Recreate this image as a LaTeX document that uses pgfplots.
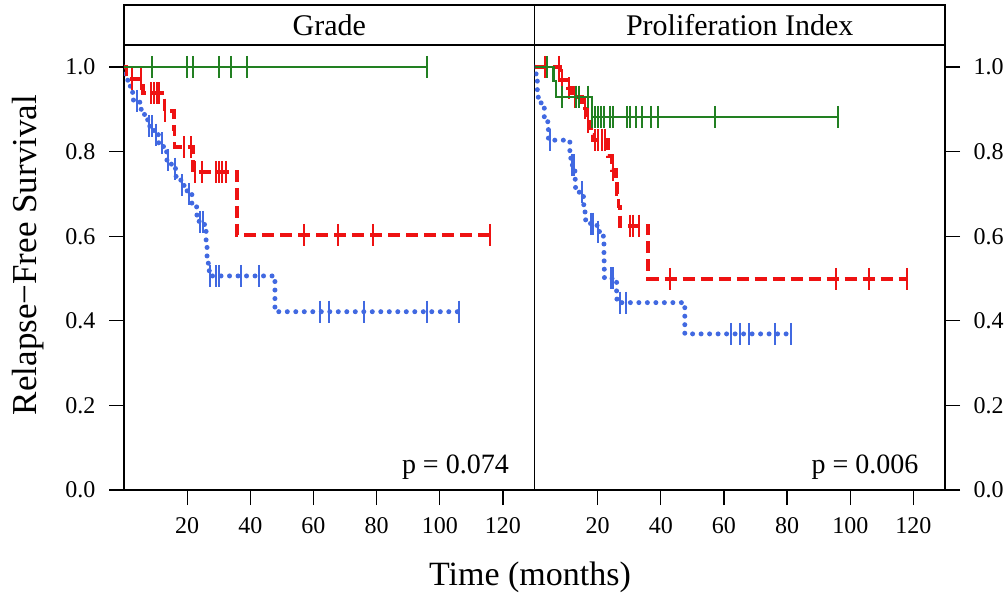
\documentclass[border=0pt]{standalone}
\usepackage{pgfplots}
\pgfplotsset{compat=1.18}
\usepackage{fontspec}
\setmainfont{Liberation Serif}
\definecolor{kmgreen}{RGB}{34,128,34}
\definecolor{kmred}{RGB}{238,18,18}
\definecolor{kmblue}{RGB}{65,105,225}
\pgfplotsset{
  kmpanel/.style={
    anchor=south west, scale only axis,
    width=410.5pt, height=445pt,
    xmin=0, xmax=130, ymin=0, ymax=1.052,
    xtick={20,40,60,80,100,120},
    ytick={0,0.2,0.4,0.6,0.8,1.0},
    tick align=outside, major tick length=15pt,
    axis line style={line width=1.3pt},
    every tick/.style={line width=1.3pt, black},
    xtick pos=bottom,
    /pgf/number format/assume math mode=true,
    yticklabel style={/pgf/number format/fixed, /pgf/number format/fixed zerofill, /pgf/number format/precision=1},
    ticklabel style={font=\fontsize{24}{27}\selectfont},
    xticklabel style={yshift=-9pt},
    clip mode=individual,
  },
  gline/.style={kmgreen, line width=2.2pt, const plot, no marks},
  rline/.style={kmred, line width=3.8pt, const plot, no marks, dash pattern=on 12pt off 6pt},
  bline/.style={kmblue, line width=5pt, const plot, no marks, dash pattern=on 0pt off 8.5pt, line cap=round},
  gcens/.style={kmgreen, only marks, mark=|, mark size=11pt, mark options={solid, line width=2pt}},
  rcens/.style={kmred, only marks, mark=|, mark size=11pt, mark options={solid, line width=2pt}},
  bcens/.style={kmblue, only marks, mark=|, mark size=11pt, mark options={solid, line width=2pt}},
}
\begin{document}
\begin{tikzpicture}[x=1pt,y=1pt]
\useasboundingbox (0,0) rectangle (1004,599);
% ---------------- Left panel: Grade ----------------
\begin{axis}[kmpanel, at={(124pt,109pt)}, ytick pos=left, yticklabel style={xshift=-10pt}]
\addplot[bline] coordinates {(0,1.0)(0.5,0.98)(1.2,0.96)(2.0,0.94)(3.0,0.92)(5.0,0.90)(6.5,0.88)(7.5,0.86)(9.5,0.84)(11,0.82)(12.5,0.80)(13.5,0.78)(15,0.76)(16.5,0.74)(18,0.72)(20,0.70)(21.5,0.67)(23,0.65)(23.8,0.634)(25.5,0.615)(26,0.58)(26.3,0.55)(26.7,0.53)(27,0.506)(47.8,0.4215)(106,0.4215)};
\addplot[bcens] coordinates {(4,0.92)(8,0.86)(9,0.86)(10,0.84)(12,0.82)(14,0.78)(16,0.76)(18.5,0.72)(20.5,0.70)(24.1,0.634)(25.1,0.634)(27.2,0.506)(29.1,0.506)(30.1,0.506)(36.9,0.506)(42.8,0.506)(62,0.4215)(65,0.4215)(76,0.4215)(96,0.4215)(106,0.4215)};
\addplot[rline] coordinates {(0,1.0)(0.8,0.971)(5.9,0.938)(12.8,0.896)(15.9,0.853)(16.0,0.81)(21.9,0.752)(35.8,0.603)(116.5,0.603)};
\addplot[rcens] coordinates {(2.6,0.971)(5.3,0.971)(8.4,0.938)(9.5,0.938)(10.3,0.938)(11.1,0.938)(13.0,0.896)(19.0,0.81)(21.2,0.81)(22.5,0.752)(24.7,0.752)(29.0,0.752)(30.1,0.752)(31.1,0.752)(32.3,0.752)(57.0,0.603)(67.9,0.603)(79.0,0.603)(115.9,0.603)};
\addplot[gline] coordinates {(0,1.0)(96,1.0)};
\addplot[gcens] coordinates {(9.0,1)(19.8,1)(21.7,1)(30.0,1)(33.9,1)(38.9,1)(96.0,1)};
\draw[line width=1.3pt, fill=white] (rel axis cs:0,1) rectangle ([yshift=40pt]rel axis cs:1,1);
\node[font=\fontsize{30}{34}\selectfont] at ([yshift=20pt]rel axis cs:0.5,1) {Grade};
\node[anchor=base east, font=\fontsize{28}{32}\selectfont] at (axis description cs:0.946,0.038) {p = 0.074};
\end{axis}
% ---------------- Right panel: Proliferation Index ----------------
\begin{axis}[kmpanel, at={(534.5pt,109pt)}, ytick pos=right, yticklabel pos=right, yticklabel style={xshift=10pt}]
\addplot[bline] coordinates {(0,1.0)(0.5,0.969)(0.9,0.946)(1.2,0.926)(2.1,0.91)(3.1,0.879)(4.2,0.859)(4.4,0.827)(11.2,0.79)(11.5,0.768)(12.8,0.745)(12.9,0.723)(13.0,0.704)(15.5,0.684)(15.6,0.664)(16.0,0.644)(16.2,0.63)(19.8,0.611)(21.8,0.585)(22.0,0.56)(22.05,0.54)(22.1,0.52)(22.15,0.50)(26.0,0.47)(26.1,0.443)(47.6,0.369)(81.1,0.369)};
\addplot[bcens] coordinates {(4.9,0.827)(11.8,0.768)(12.4,0.768)(15.0,0.704)(17.9,0.63)(18.6,0.63)(20.2,0.611)(24.1,0.50)(24.9,0.50)(27.1,0.443)(29.0,0.443)(62.2,0.369)(65.0,0.369)(68.0,0.369)(76.1,0.369)(81.1,0.369)};
\addplot[rline] coordinates {(0,1.0)(8.0,0.969)(10.7,0.95)(12.0,0.93)(15.0,0.902)(16.5,0.871)(18.0,0.84)(18.6,0.827)(23.2,0.79)(24.5,0.756)(25.8,0.73)(26.2,0.70)(26.6,0.67)(27.0,0.625)(36.0,0.499)(118,0.499)};
\addplot[rcens] coordinates {(3.4,1.0)(7.8,1.0)(8.6,0.969)(11.0,0.95)(12.8,0.93)(14.1,0.93)(16.0,0.902)(17.0,0.871)(19.2,0.827)(20.2,0.827)(21.3,0.827)(22.3,0.827)(25.0,0.756)(30.1,0.625)(31.1,0.625)(33.1,0.625)(42.9,0.499)(95.4,0.499)(105.9,0.499)(118,0.499)};
\addplot[gline] coordinates {(0,1.0)(6.0,0.966)(6.8,0.93)(18.1,0.882)(96.1,0.882)};
\addplot[gcens] coordinates {(4.1,1.0)(8.8,0.93)(13.2,0.93)(14.1,0.93)(17.0,0.93)(18.3,0.882)(19.3,0.882)(20.2,0.882)(21.2,0.882)(22.0,0.882)(23.9,0.882)(24.9,0.882)(29.2,0.882)(30.2,0.882)(32.1,0.882)(33.9,0.882)(36.8,0.882)(39.0,0.882)(57.1,0.882)(96.1,0.882)};
\draw[line width=1.3pt, fill=white] (rel axis cs:0,1) rectangle ([yshift=40pt]rel axis cs:1,1);
\node[font=\fontsize{30}{34}\selectfont] at ([yshift=20pt]rel axis cs:0.5,1) {Proliferation Index};
\node[anchor=base east, font=\fontsize{28}{32}\selectfont] at (axis description cs:0.944,0.038) {p = 0.006};
\end{axis}
\node[rotate=90, font=\fontsize{35}{40}\selectfont] at (28,344) {Relapse−Free Survival};
\node[font=\fontsize{34}{38}\selectfont] at (530,22) {Time (months)};
\end{tikzpicture}
\end{document}
